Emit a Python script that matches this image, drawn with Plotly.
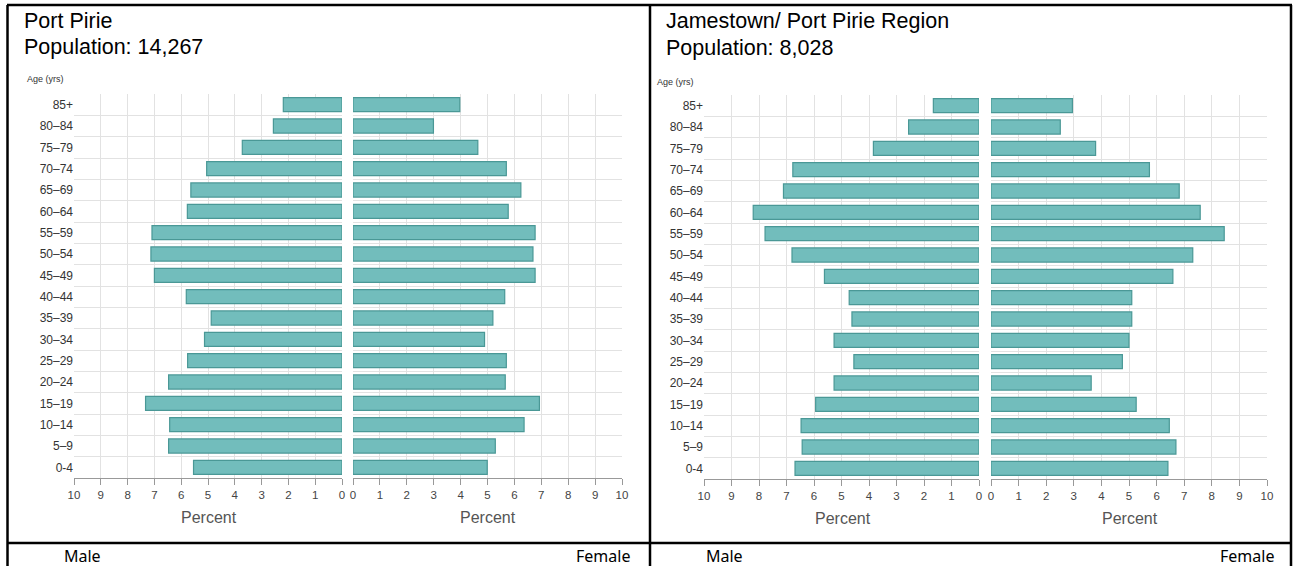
import plotly.graph_objects as go

W, H = 1293, 566

age_groups = ["0-4", "5–9", "10–14", "15–19", "20–24", "25–29", "30–34", "35–39", "40–44",
              "45–49", "50–54", "55–59", "60–64", "65–69", "70–74", "75–79", "80–84", "85+"]

# Port Pirie (bottom-up order, matching age_groups)
pp_male = [5.54, 6.47, 6.43, 7.33, 6.47, 5.76, 5.13, 4.88, 5.81,
           7.00, 7.13, 7.09, 5.77, 5.64, 5.05, 3.72, 2.56, 2.19]
pp_female = [4.99, 5.29, 6.36, 6.93, 5.66, 5.70, 4.89, 5.20, 5.64,
             6.77, 6.69, 6.77, 5.77, 6.24, 5.70, 4.64, 2.99, 3.97]

# Jamestown / Port Pirie Region
jr_male = [6.69, 6.43, 6.47, 5.94, 5.27, 4.55, 5.27, 4.62, 4.72,
           5.62, 6.80, 7.78, 8.21, 7.11, 6.77, 3.84, 2.56, 1.66]
jr_female = [6.41, 6.70, 6.46, 5.26, 3.63, 4.76, 5.00, 5.10, 5.10,
             6.59, 7.31, 8.45, 7.58, 6.82, 5.74, 3.79, 2.51, 2.95]

x_ticks = list(range(0, 11))

BAR_FILL = "#72BDBC"
BAR_LINE = "#4A9896"
GRID = "#e2e2e2"
FONT = "Liberation Sans"

def px(x):
    return x / W

def py(y):
    return 1 - y / H

y_idx = list(range(len(age_groups)))

fig = go.Figure()
panels = [
    (pp_male, "x", "y"),
    (pp_female, "x2", "y2"),
    (jr_male, "x3", "y3"),
    (jr_female, "x4", "y4"),
]
for vals, xa, ya in panels:
    fig.add_trace(go.Bar(
        x=vals, y=y_idx, orientation="h", xaxis=xa, yaxis=ya,
        width=0.66,
        marker=dict(color=BAR_FILL, line=dict(color=BAR_LINE, width=1.2)),
        showlegend=False, hoverinfo="x+y",
    ))

def xaxis(domain, reverse, anchor):
    return dict(
        domain=domain, anchor=anchor, automargin=False,
        range=[10, 0] if reverse else [0, 10],
        tickvals=x_ticks, ticktext=[str(v) for v in x_ticks],
        showgrid=True, gridcolor=GRID, gridwidth=1.3,
        zeroline=False,
        showline=True, linecolor="#999999", linewidth=1.3,
        ticks="outside", ticklen=6, tickcolor="#999999",
        tickfont=dict(family=FONT, size=11.5, color="#444"),
        fixedrange=True,
    )

def yaxis(domain, anchor, labels):
    return dict(
        domain=domain, anchor=anchor, automargin=False,
        range=[-0.5, len(age_groups) - 0.5],
        tickvals=y_idx, ticktext=age_groups,
        showticklabels=labels,
        tickfont=dict(family=FONT, size=12, color="#333"),
        ticks="", showgrid=False, zeroline=False, showline=False,
        minor=dict(tickvals=[i - 0.5 for i in range(len(age_groups) + 1)],
                   showgrid=True, gridcolor=GRID, gridwidth=1.3, ticks=""),
        fixedrange=True,
    )

yl = [py(478), py(94)]
yr = [py(479), py(95)]

fig.update_layout(
    width=W, height=H, autosize=False,
    margin=dict(l=0, r=0, t=0, b=0, pad=0, autoexpand=False),
    paper_bgcolor="white", plot_bgcolor="white",
    bargap=0.3,
    xaxis=xaxis([px(74), px(342)], True, "y"),
    xaxis2=xaxis([px(353), px(622)], False, "y2"),
    xaxis3=xaxis([px(704), px(979)], True, "y3"),
    xaxis4=xaxis([px(991), px(1267)], False, "y4"),
    yaxis=yaxis(yl, "x", True),
    yaxis2=yaxis(yl, "x2", False),
    yaxis3=yaxis(yr, "x3", True),
    yaxis4=yaxis(yr, "x4", False),
)

def ann(text, x, y, size, color="#000", xanchor="left", family=FONT):
    fig.add_annotation(text=text, x=px(x), y=py(y), xref="paper", yref="paper",
                       xanchor=xanchor, yanchor="middle", showarrow=False,
                       font=dict(family=family, size=size, color=color))

ann("Port Pirie", 22, 21, 21.5)
ann("Population: 14,267", 22, 47, 21.5)
ann("Age (yrs)", 25, 79, 9, "#333")
ann("Jamestown/ Port Pirie Region", 664, 21, 21.5)
ann("Population: 8,028", 664, 48, 21.5)
ann("Age (yrs)", 655, 82, 9, "#333")

ann("Percent", 209, 517, 16, "#555", "center")
ann("Percent", 488, 517, 16, "#555", "center")
ann("Percent", 843, 518, 16, "#555", "center")
ann("Percent", 1130, 518, 16, "#555", "center")

ann("Male", 62, 556, 16, "#000", "left", "Noto Sans")
ann("Female", 632, 556, 16, "#000", "right", "Noto Sans")
ann("Male", 704, 556, 16, "#000", "left", "Noto Sans")
ann("Female", 1276, 556, 16, "#000", "right", "Noto Sans")

def line(x0, y0, x1, y1):
    fig.add_shape(type="line", xref="paper", yref="paper",
                  x0=px(x0), y0=py(y0), x1=px(x1), y1=py(y1),
                  line=dict(color="black", width=2.5))

line(7, 5, 1292, 5)
line(7.5, 5, 7.5, 566)
line(650, 5, 650, 566)
line(1291, 5, 1291, 566)
line(7, 543, 1292, 543)

fig.write_html(
    "out.html",
    config={"displayModeBar": False, "responsive": False},
    post_script="document.body.style.margin='0';document.body.style.overflow='hidden';",
)
